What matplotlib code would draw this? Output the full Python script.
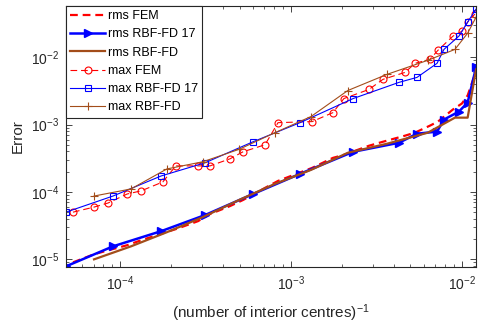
import matplotlib
matplotlib.use("Agg")
import matplotlib.pyplot as plt
import numpy as np
from matplotlib.ticker import LogLocator, NullFormatter

plt.rcParams['font.family'] = ['Liberation Sans', 'DejaVu Sans']
plt.rcParams['mathtext.default'] = 'regular'

# ---- data ----
x_fem = [5.31e-5, 7.05e-5, 8.51e-5, 1.10e-4, 1.33e-4, 1.78e-4, 2.12e-4, 2.86e-4, 3.36e-4,
         4.40e-4, 5.24e-4, 7.05e-4, 8.40e-4, 1.33e-3, 1.76e-3, 2.04e-3, 2.86e-3, 3.45e-3,
         4.65e-3, 5.31e-3, 6.50e-3, 7.24e-3, 8.86e-3, 1.00e-2, 1.08e-2, 1.19e-2]
rms_fem = [9.02e-6, 1.19e-5, 1.36e-5, 1.62e-5, 1.92e-5, 2.44e-5, 2.81e-5, 3.69e-5, 4.70e-5,
           6.18e-5, 7.60e-5, 1.15e-4, 1.46e-4, 2.28e-4, 3.21e-4, 3.56e-4, 4.86e-4, 5.57e-4,
           6.86e-4, 7.60e-4, 9.66e-4, 1.11e-3, 1.68e-3, 2.06e-3, 2.71e-3, 5.57e-3]
max_fem = [5.02e-5, 5.97e-5, 6.86e-5, 9.33e-5, 1.04e-4, 1.41e-4, 2.44e-4, 2.44e-4, 2.44e-4,
           3.11e-4, 3.95e-4, 5.03e-4, 1.07e-3, 1.11e-3, 1.51e-3, 2.44e-3, 3.33e-3, 4.70e-3,
           5.97e-3, 8.13e-3, 9.33e-3, 1.27e-2, 2.06e-2, 2.44e-2, 3.33e-2, 4.38e-2]

x_rbf17 = [4.83e-5, 9.10e-5, 1.74e-4, 3.14e-4, 6.00e-4, 1.13e-3, 2.31e-3, 4.28e-3,
           5.46e-3, 7.15e-3, 7.85e-3, 9.60e-3, 1.08e-2, 1.21e-2]
rms_rbf17 = [7.87e-6, 1.56e-5, 2.62e-5, 4.54e-5, 9.33e-5, 1.86e-4, 3.95e-4, 5.38e-4,
             7.34e-4, 7.87e-4, 1.19e-3, 1.56e-3, 2.13e-3, 7.10e-3]
max_rbf17 = [5.02e-5, 8.71e-5, 1.73e-4, 2.71e-4, 5.57e-4, 1.07e-3, 2.44e-3, 4.24e-3,
             5.03e-3, 8.13e-3, 1.31e-2, 2.06e-2, 3.33e-2, 5.20e-2]

x_rbf = [7.05e-5, 1.16e-4, 1.88e-4, 3.05e-4, 4.97e-4, 8.06e-4, 1.31e-3, 2.15e-3,
         3.64e-3, 6.32e-3, 9.10e-3, 1.08e-2, 1.21e-2]
rms_rbf = [1.00e-5, 1.56e-5, 2.53e-5, 4.24e-5, 7.60e-5, 1.32e-4, 2.13e-4, 3.82e-4,
           5.20e-4, 7.60e-4, 1.27e-3, 1.27e-3, 6.62e-3]
max_rbf = [8.71e-5, 1.11e-4, 2.20e-4, 2.81e-4, 4.30e-4, 7.60e-4, 1.32e-3, 3.21e-3,
           5.57e-3, 9.02e-3, 1.31e-2, 2.28e-2, 3.95e-2]

labels = ['rms FEM', 'rms RBF-FD 17', 'rms RBF-FD', 'max FEM', 'max RBF-FD 17', 'max RBF-FD']

red = (1, 0, 0)
blue = (0, 0, 1)
brown = (0.64, 0.30, 0.10)

fig = plt.figure(figsize=(4.78, 3.26), dpi=100)
ax = fig.add_axes([0.138, 0.181, 0.858, 0.801])

ax.plot(x_fem, rms_fem, color=red, lw=1.6, ls=(0, (3.5, 2.2)), label=labels[0])
ax.plot(x_rbf17, rms_rbf17, '-', color=blue, lw=1.8, marker='>', ms=6,
        mfc=blue, mec=blue, label=labels[1])
ax.plot(x_rbf, rms_rbf, '-', color=brown, lw=1.6, label=labels[2])
ax.plot(x_fem, max_fem, color=red, lw=0.8, ls=(0, (6, 3.5)), marker='o', ms=5, mfc='none',
        mec=red, mew=0.8, label=labels[3])
ax.plot(x_rbf17, max_rbf17, '-', color=blue, lw=0.8, marker='s', ms=4.5, mfc='none',
        mec=blue, mew=0.8, label=labels[4])
ax.plot(x_rbf, max_rbf, '-', color=brown, lw=0.8, marker='+', ms=6, mew=0.8,
        label=labels[5])

ax.set_xscale('log')
ax.set_yscale('log')
ax.set_xlim(4.83e-5, 1.21e-2)
ax.set_ylim(7.7e-6, 5.8e-2)

ax.xaxis.set_major_locator(LogLocator(base=10, numticks=10))
ax.yaxis.set_major_locator(LogLocator(base=10, numticks=10))
ax.xaxis.set_minor_locator(LogLocator(base=10, subs=np.arange(2, 10), numticks=20))
ax.yaxis.set_minor_locator(LogLocator(base=10, subs=np.arange(2, 10), numticks=20))
ax.xaxis.set_minor_formatter(NullFormatter())
ax.yaxis.set_minor_formatter(NullFormatter())

for s in ax.spines.values():
    s.set_color('#262626')
    s.set_linewidth(0.8)
ax.tick_params(which='both', direction='in', top=True, right=True, colors='#262626',
               labelcolor='#262626', labelsize=10)
ax.tick_params(which='major', length=4, width=0.6, pad=5)
ax.tick_params(which='minor', length=2, width=0.5)

ax.set_xlabel('(number of interior centres)$^{-1}$', fontsize=11, color='#262626', labelpad=7)
ax.set_ylabel('Error', fontsize=11, color='#262626', labelpad=4)

leg = ax.legend(loc='upper left', fontsize=9, frameon=True, fancybox=False,
                edgecolor='#262626', framealpha=1, borderaxespad=0,
                handlelength=2.8, handletextpad=0.2, labelspacing=0.5,
                borderpad=0.35)
leg.get_frame().set_linewidth(0.8)

fig.savefig('out.png', dpi=100)
